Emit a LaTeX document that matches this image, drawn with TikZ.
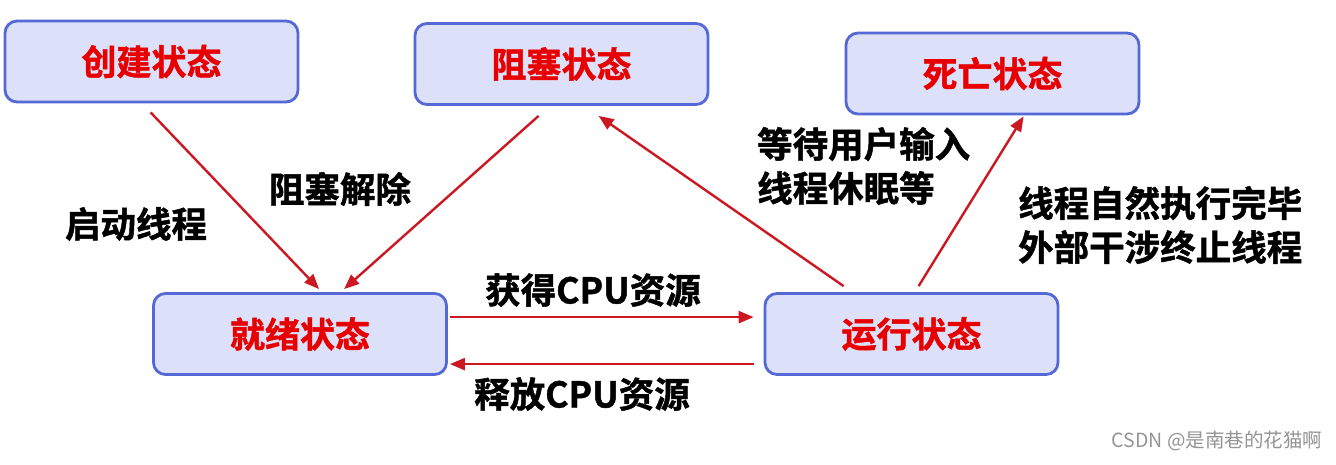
\documentclass[tikz,border=0pt]{standalone}
\usepackage{fontspec}
\newfontfamily\cjkb[FakeBold=1.3]{Noto Sans CJK SC Bold}
\newfontfamily\cjkr{Noto Sans CJK SC}
\usetikzlibrary{arrows.meta}
\definecolor{boxfill}{RGB}{220,224,248}
\definecolor{boxline}{RGB}{84,104,214}
\definecolor{stxt}{RGB}{232,0,0}
\definecolor{arr}{RGB}{204,24,34}
\tikzset{
  state/.style={draw=boxline, line width=2.8pt, fill=boxfill, rounded corners=12pt,
    minimum width=293pt, minimum height=81pt, inner sep=0pt,
    font=\cjkb\fontsize{35pt}{40pt}\selectfont, text=stxt},
  lbl/.style={font=\cjkb\fontsize{35.5pt}{44pt}\selectfont, text=black, inner sep=0pt, align=left},
  conn/.style={draw=arr, line width=2.4pt, -{Triangle[length=15pt,width=12pt]}},
}
\begin{document}
\begin{tikzpicture}[x=1pt,y=-1pt]
\useasboundingbox (0,0) rectangle (1336,464);
\fill[white] (0,0) rectangle (1336,464);
\node[state] (cj) at (151.5,61.5) {创建状态};
\node[state] (zs) at (561.5,64) {阻塞状态};
\node[state] (sw) at (992.5,73.5) {死亡状态};
\node[state] (jx) at (300,334) {就绪状态};
\node[state] (yx) at (911.5,334) {运行状态};

\draw[conn] ([shift={(147,9)}]cj.south west) -- ([shift={(167,-3)}]jx.north west);
\draw[conn] ([shift={(125,10)}]zs.south west) -- ([shift={(192,-3)}]jx.north west);
\draw[conn] ([shift={(2,25)}]jx.north east) -- ([shift={(-10,25)}]yx.north west);
\draw[conn] ([shift={(-10,72)}]yx.north west) -- ([shift={(2,72)}]jx.north east);
\draw[conn] ([shift={(80,-6)}]yx.north west) -- ([shift={(185,10)}]zs.south west);
\draw[conn] ([shift={(155,-6)}]yx.north west) -- ([shift={(179,1)}]sw.south west);

\node[lbl] (l1) at (136,224) {启动线程};
\node[lbl] (l2) at (340,189) {阻塞解除};
\node[lbl] (l3) at (593,290) {获得CPU资源};
\node[lbl] (l4) at (582,394) {释放CPU资源};
\node[lbl, anchor=west] (l5) at (757,166) {等待用户输入\\线程休眠等};
\node[lbl, anchor=west] (l6) at (1018,225) {线程自然执行完毕\\外部干涉终止线程};
\node[font=\cjkr\fontsize{19.5pt}{22pt}\selectfont, text=black!42, inner sep=0pt] (wm) at (1217,441) {CSDN @是南巷的花猫啊};
\end{tikzpicture}
\end{document}
